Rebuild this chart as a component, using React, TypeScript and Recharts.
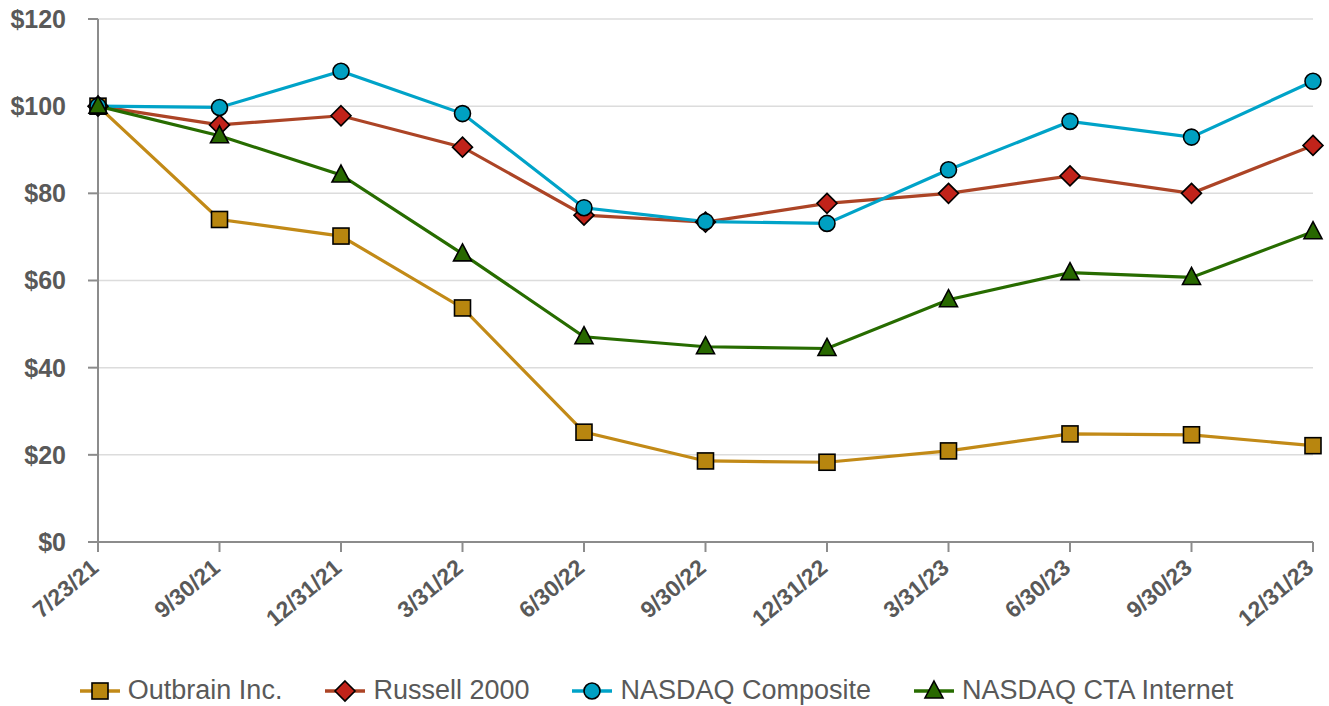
import React from "react";
import {
  LineChart,
  Line,
  XAxis,
  YAxis,
  CartesianGrid,
  Legend,
} from "recharts";

const dates = [
  "7/23/21",
  "9/30/21",
  "12/31/21",
  "3/31/22",
  "6/30/22",
  "9/30/22",
  "12/31/22",
  "3/31/23",
  "6/30/23",
  "9/30/23",
  "12/31/23",
];

const outbrain = [100, 74.0, 70.2, 53.7, 25.2, 18.6, 18.3, 20.9, 24.8, 24.6, 22.1];
const russell = [100, 95.7, 97.8, 90.6, 75.0, 73.4, 77.7, 80.0, 84.0, 80.0, 91.0];
const nasdaqComp = [100, 99.7, 108.0, 98.3, 76.7, 73.5, 73.1, 85.4, 96.5, 92.9, 105.7];
const nasdaqCta = [100, 93.2, 84.2, 66.1, 47.1, 44.8, 44.4, 55.6, 61.8, 60.7, 71.2];

const yTicks = [0, 20, 40, 60, 80, 100, 120];

const series = [
  { key: "outbrain", name: "Outbrain Inc.", line: "#C28A17", fill: "#B8860F", shape: "square" },
  { key: "russell", name: "Russell 2000", line: "#AC4426", fill: "#C1231A", shape: "diamond" },
  { key: "nasdaqComp", name: "NASDAQ Composite", line: "#00A3C8", fill: "#00A0C2", shape: "circle" },
  { key: "nasdaqCta", name: "NASDAQ CTA Internet", line: "#276C00", fill: "#286800", shape: "triangle" },
];

const data = dates.map((d, i) => ({
  date: d,
  outbrain: outbrain[i],
  russell: russell[i],
  nasdaqComp: nasdaqComp[i],
  nasdaqCta: nasdaqCta[i],
}));

const font = "'Liberation Sans', Arial, sans-serif";

function Marker({ cx, cy, shape, fill }: { cx: number; cy: number; shape: string; fill: string }) {
  const s = { fill, stroke: "#000", strokeWidth: 1.6 };
  if (shape === "square") return <rect x={cx - 8} y={cy - 8} width={16} height={16} {...s} />;
  if (shape === "circle") return <circle cx={cx} cy={cy} r={8} {...s} />;
  if (shape === "diamond")
    return <polygon points={`${cx},${cy - 10} ${cx + 10},${cy} ${cx},${cy + 10} ${cx - 10},${cy}`} {...s} />;
  return <polygon points={`${cx},${cy - 10} ${cx + 9},${cy + 7} ${cx - 9},${cy + 7}`} {...s} />;
}

function makeDot(shape: string, fill: string) {
  return (props: any) => {
    if (props.cx == null || props.cy == null) return <g key={props.index} />;
    return <Marker key={props.index} cx={props.cx} cy={props.cy} shape={shape} fill={fill} />;
  };
}

function XTick({ x, y, payload }: any) {
  return (
    <g transform={`translate(${x + 2},${y + 16})`}>
      <text
        transform="rotate(-40)"
        textAnchor="end"
        fill="#595959"
        fontSize={23}
        fontWeight="bold"
        fontFamily={font}
      >
        {payload.value}
      </text>
    </g>
  );
}

function LegendContent() {
  return (
    <div
      style={{
        display: "flex",
        justifyContent: "center",
        gap: 43,
        fontFamily: font,
        fontSize: 27,
        color: "#595959",
      }}
    >
      {series.map((s) => (
        <div key={s.key} style={{ display: "flex", alignItems: "center", gap: 8 }}>
          <svg width={40} height={24}>
            <line x1={0} y1={12} x2={40} y2={12} stroke={s.line} strokeWidth={3.5} />
            <Marker cx={20} cy={12} shape={s.shape} fill={s.fill} />
          </svg>
          <span>{s.name}</span>
        </div>
      ))}
    </div>
  );
}

export default function App() {
  return (
    <div style={{ position: "fixed", left: 0, top: 0, background: "#fff" }}>
      <LineChart
        width={1329}
        height={706}
        data={data}
        margin={{ top: 19, right: 16, left: 0, bottom: 0 }}
      >
        <CartesianGrid vertical={false} stroke="#DCDCDC" strokeWidth={1.5} />
        <XAxis
          dataKey="date"
          stroke="#8C8C8C"
          strokeWidth={2}
          tickSize={10}
          tick={<XTick />}
          interval={0}
          height={133}
        />
        <YAxis
          domain={[0, 120]}
          ticks={yTicks}
          width={98}
          stroke="#8C8C8C"
          strokeWidth={2}
          tickSize={10}
          tickFormatter={(v) => `$${v}`}
          tick={{
            fill: "#595959",
            fontSize: 25,
            fontWeight: "bold",
            fontFamily: font,
            dx: -20,
          }}
        />
        <Legend verticalAlign="bottom" content={<LegendContent />} />
        {series.map((s) => (
          <Line
            key={s.key}
            dataKey={s.key}
            name={s.name}
            stroke={s.line}
            strokeWidth={3.2}
            dot={makeDot(s.shape, s.fill)}
            activeDot={false}
            isAnimationActive={false}
          />
        ))}
      </LineChart>
    </div>
  );
}
